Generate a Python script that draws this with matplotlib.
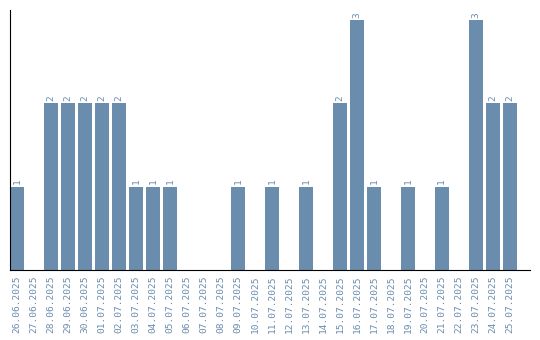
import numpy as np
import matplotlib
matplotlib.use("Agg")
import matplotlib.pyplot as plt

dates = ["26.06.2025", "27.06.2025", "28.06.2025", "29.06.2025", "30.06.2025",
         "01.07.2025", "02.07.2025", "03.07.2025", "04.07.2025", "05.07.2025",
         "06.07.2025", "07.07.2025", "08.07.2025", "09.07.2025", "10.07.2025",
         "11.07.2025", "12.07.2025", "13.07.2025", "14.07.2025", "15.07.2025",
         "16.07.2025", "17.07.2025", "18.07.2025", "19.07.2025", "20.07.2025",
         "21.07.2025", "22.07.2025", "23.07.2025", "24.07.2025", "25.07.2025"]
counts = [1, 0, 2, 2, 2, 2, 2, 1, 1, 1,
          0, 0, 0, 1, 0, 1, 0, 1, 0, 2,
          3, 1, 0, 1, 0, 1, 0, 3, 2, 2]

color = "#6a8cad"

fig = plt.figure(figsize=(5.4, 3.4), dpi=100)
ax = fig.add_axes([10/540, 70/340, 520/540, 260/340])

x = np.arange(len(dates))
w = 0.82
bars = ax.bar(x, counts, width=w, align="edge", color=color)

for xi, v in zip(x, counts):
    if v > 0:
        ax.text(xi + w/2, v + 0.03, str(v), rotation=90, ha="center", va="bottom",
                color=color, fontsize=6.8, family="DejaVu Sans Mono")

ax.set_xlim(0, 30.6)
ax.set_ylim(0, 3.12)
ax.set_xticks(x + w/2)
ax.set_xticklabels(dates, rotation=90, color=color, fontsize=6.8, family="DejaVu Sans Mono")
ax.tick_params(axis="x", length=0, pad=4)
ax.set_yticks([])
ax.spines["top"].set_visible(False)
ax.spines["right"].set_visible(False)

fig.savefig("out.png", dpi=100)
